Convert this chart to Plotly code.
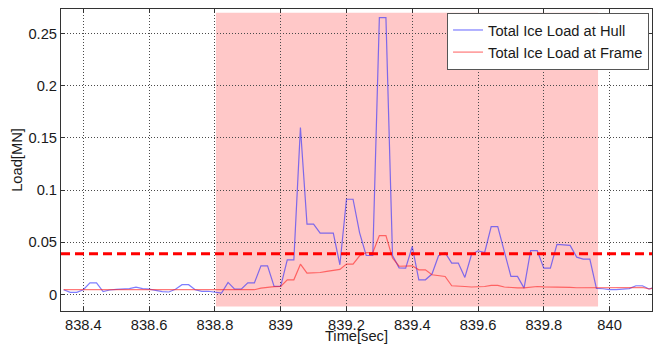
import plotly.graph_objects as go

time_s = [838.34, 838.36, 838.38, 838.40, 838.42, 838.44, 838.46, 838.48, 838.50, 838.52,
          838.54, 838.56, 838.58, 838.60, 838.62, 838.64, 838.66, 838.68, 838.70, 838.72,
          838.74, 838.76, 838.78, 838.80, 838.82, 838.84, 838.86, 838.88, 838.90, 838.92,
          838.94, 838.96, 838.98, 839.00, 839.02, 839.04, 839.06, 839.08, 839.10, 839.12,
          839.14, 839.16, 839.18, 839.20, 839.22, 839.24, 839.26, 839.28, 839.30, 839.32,
          839.34, 839.36, 839.38, 839.40, 839.42, 839.44, 839.46, 839.48, 839.50, 839.52,
          839.54, 839.56, 839.58, 839.60, 839.62, 839.64, 839.66, 839.68, 839.70, 839.72,
          839.74, 839.76, 839.78, 839.80, 839.82, 839.84, 839.86, 839.88, 839.90, 839.92,
          839.94, 839.96, 839.98, 840.00, 840.02, 840.04, 840.06, 840.08, 840.10, 840.12,
          840.14]

hull_load = [0.0045, 0.0020, 0.0020, 0.0045, 0.0110, 0.0110, 0.0026, 0.0042, 0.0048, 0.0050,
             0.0055, 0.0070, 0.0055, 0.0050, 0.0035, 0.0026, 0.0023, 0.0050, 0.0093, 0.0093,
             0.0045, 0.0030, 0.0030, 0.0020, 0.0013, 0.0115, 0.0050, 0.0050, 0.0110, 0.0110,
             0.0274, 0.0274, 0.0077, 0.0077, 0.0330, 0.0330, 0.1600, 0.0673, 0.0673, 0.0587,
             0.0587, 0.0587, 0.0284, 0.0912, 0.0912, 0.0590, 0.0373, 0.0373, 0.2652, 0.2652,
             0.0373, 0.0255, 0.0252, 0.0459, 0.0140, 0.0140, 0.0195, 0.0370, 0.0400, 0.0300,
             0.0300, 0.0163, 0.0380, 0.0418, 0.0400, 0.0650, 0.0650, 0.0410, 0.0172, 0.0172,
             0.0060, 0.0420, 0.0420, 0.0252, 0.0252, 0.0480, 0.0475, 0.0470, 0.0357, 0.0338,
             0.0338, 0.0057, 0.0054, 0.0045, 0.0045, 0.0048, 0.0055, 0.0083, 0.0083, 0.0052,
             0.0070]

frame_load = [0.0045, 0.0045, 0.0045, 0.0045, 0.0046, 0.0046, 0.0045, 0.0045, 0.0046, 0.0046,
              0.0046, 0.0047, 0.0046, 0.0046, 0.0045, 0.0045, 0.0045, 0.0045, 0.0045, 0.0045,
              0.0045, 0.0045, 0.0045, 0.0045, 0.0045, 0.0045, 0.0045, 0.0045, 0.0045, 0.0045,
              0.0060, 0.0070, 0.0074, 0.0077, 0.0140, 0.0140, 0.0290, 0.0205, 0.0205, 0.0210,
              0.0220, 0.0227, 0.0240, 0.0290, 0.0290, 0.0370, 0.0400, 0.0400, 0.0564, 0.0564,
              0.0348, 0.0270, 0.0275, 0.0274, 0.0236, 0.0236, 0.0188, 0.0179, 0.0172, 0.0083,
              0.0083, 0.0076, 0.0071, 0.0071, 0.0076, 0.0086, 0.0086, 0.0071, 0.0064, 0.0062,
              0.0062, 0.0072, 0.0076, 0.0072, 0.0072, 0.0072, 0.0072, 0.0068, 0.0064, 0.0065,
              0.0066, 0.0067, 0.0067, 0.0066, 0.0066, 0.0065, 0.0065, 0.0066, 0.0067, 0.0052,
              0.0065]

threshold = 0.039
event_window = [838.803, 839.965]
event_load_span = [-0.0115, 0.2700]

x_range = [838.332, 840.129]
y_range = [-0.0159, 0.2735]
x_ticks = [838.4, 838.6, 838.8, 839.0, 839.2, 839.4, 839.6, 839.8, 840.0]
x_ticklabels = ["838.4", "838.6", "838.8", "839", "839.2", "839.4", "839.6", "839.8", "840"]
y_ticks = [0, 0.05, 0.1, 0.15, 0.2, 0.25]
y_ticklabels = ["0", "0.05", "0.1", "0.15", "0.2", "0.25"]

font_family = "Arial, Liberation Sans, sans-serif"
fs = 14.7

fig = go.Figure()

fig.add_shape(type="rect", x0=event_window[0], x1=event_window[1],
              y0=event_load_span[0], y1=event_load_span[1],
              xref="x", yref="y", fillcolor="rgb(255,200,200)",
              line=dict(width=0), layer="below")

fig.add_trace(go.Scatter(x=time_s, y=hull_load, mode="lines",
                         name="Total Ice Load at Hull",
                         line=dict(color="rgba(40,40,255,0.6)", width=1.2)))
fig.add_trace(go.Scatter(x=time_s, y=frame_load, mode="lines",
                         name="Total Ice Load at Frame",
                         line=dict(color="rgba(255,30,30,0.6)", width=1.2)))

fig.add_shape(type="line", xref="x domain", x0=0, x1=1, yref="y",
              y0=threshold, y1=threshold,
              line=dict(color="rgb(255,0,0)", width=3, dash="9px,5px"))

axis_common = dict(
    showline=True, linecolor="#333333", linewidth=1, mirror="allticks",
    ticks="inside", ticklen=4, tickcolor="#333333",
    showgrid=True, gridcolor="#4a4a4a", gridwidth=1, griddash="1px,2px",
    zeroline=False, automargin=False,
    tickfont=dict(family=font_family, size=fs, color="#1a1a1a"),
)

fig.update_xaxes(range=x_range, tickvals=x_ticks, ticktext=x_ticklabels,
                 title=dict(text="Time[sec]", standoff=0,
                            font=dict(family=font_family, size=fs, color="#1a1a1a")),
                 **axis_common)
fig.update_yaxes(range=y_range, tickvals=y_ticks, ticktext=y_ticklabels,
                 title=dict(text="Load[MN]", standoff=2,
                            font=dict(family=font_family, size=fs, color="#1a1a1a")),
                 **axis_common)

# page body has an 8px offset, so the figure is 654x336 with margins adjusted
fig.update_layout(
    width=654, height=336,
    margin=dict(l=53, r=10, t=1, b=33, autoexpand=False),
    paper_bgcolor="white", plot_bgcolor="white",
    font=dict(family=font_family, size=fs, color="#1a1a1a"),
    legend=dict(x=0.995, y=0.987, xanchor="right", yanchor="top",
                bgcolor="white", bordercolor="#555555", borderwidth=1,
                font=dict(family=font_family, size=fs, color="#1a1a1a"),
                tracegroupgap=0, itemwidth=30),
    showlegend=True,
)

fig.write_html("out.html")
